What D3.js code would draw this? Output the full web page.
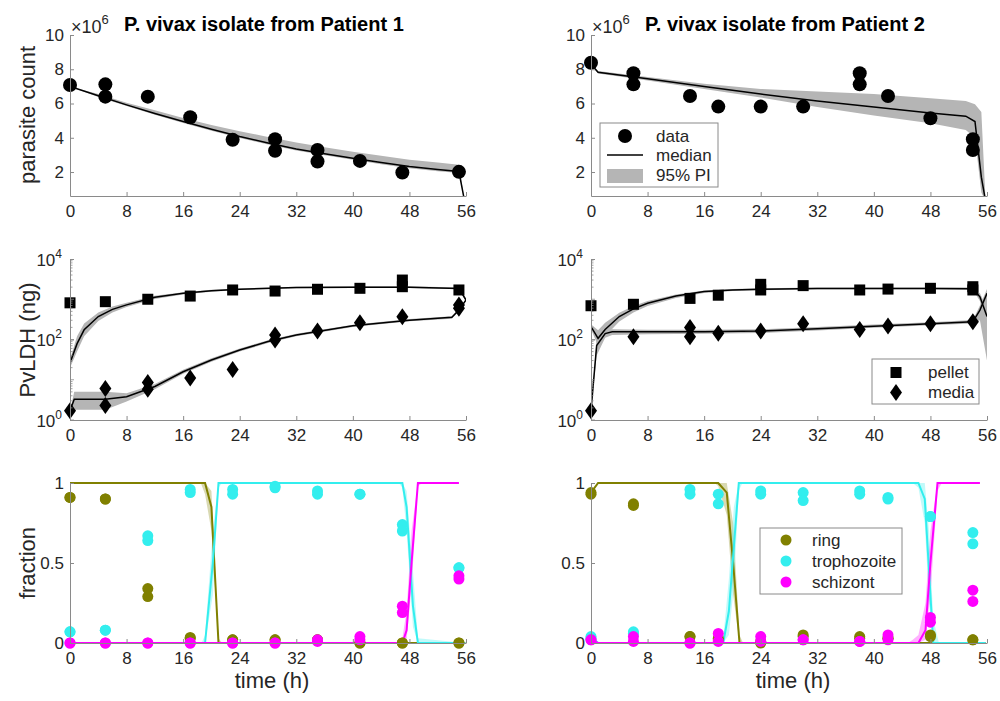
<!DOCTYPE html>
<html>
<head>
<meta charset="utf-8">
<title>P. vivax isolates</title>
<script src="https://cdn.jsdelivr.net/npm/d3@7"></script>
<style>body{margin:0;background:#fff}</style>
</head>
<body>
<div id="chart"></div>
<script>
// ---- data ----
const hourTicks = [0, 8, 16, 24, 32, 40, 48, 56];
const countTicks = [2, 4, 6, 8, 10];
const ldhTicks = [1, 100, 10000];
const fracTicks = [0, 0.5, 1];
const titles = ["P. vivax isolate from Patient 1", "P. vivax isolate from Patient 2"];

// parasite count (x10^6)
const p1CountT = [0, 5, 5, 11, 17, 23, 29, 29, 35, 35, 41, 47, 55];
const p1CountV = [7.08, 7.12, 6.4, 6.4, 5.2, 3.88, 3.92, 3.24, 3.29, 2.61, 2.65, 1.97, 2.01];
const p1CountModelT = [0, 4, 8, 12, 16, 20, 24, 28, 32, 36, 40, 44, 48, 52, 55, 55.8];
const p1CountMed = [7.0, 6.45, 5.92, 5.42, 4.95, 4.5, 4.07, 3.7, 3.35, 3.07, 2.81, 2.55, 2.32, 2.15, 2.03, 0.3];
const p1CountLo  = [7.0, 6.38, 5.85, 5.34, 4.86, 4.41, 3.98, 3.61, 3.26, 2.98, 2.72, 2.46, 2.22, 2.05, 1.94, 0.3];
const p1CountHi  = [7.0, 6.55, 6.05, 5.6, 5.15, 4.75, 4.38, 4.05, 3.72, 3.45, 3.18, 2.95, 2.72, 2.55, 2.42, 0.3];

const p2CountT = [0, 6, 6, 14, 18, 24, 30, 38, 38, 42, 48, 54, 54];
const p2CountV = [8.38, 7.77, 7.12, 6.44, 5.82, 5.82, 5.82, 7.77, 7.12, 6.44, 5.14, 3.92, 3.29];
const p2CountModelT = [0, 1, 8, 16, 24, 32, 40, 48, 53, 54.3, 55.2, 55.8];
const p2CountMed = [8.3, 7.82, 7.45, 7.0, 6.55, 6.15, 5.8, 5.45, 5.26, 4.95, 1.7, 0.3];
const p2CountLo  = [8.25, 7.75, 7.35, 6.85, 6.35, 5.8, 5.3, 4.85, 4.45, 4.0, 0.8, 0.3];
const p2CountHi  = [8.35, 7.9, 7.55, 7.15, 6.85, 6.7, 6.55, 6.3, 6.15, 5.95, 5.5, 0.3];

// PvLDH (ng)
const p1PelletT = [0, 5, 11, 17, 23, 29, 35, 41, 47, 47, 55];
const p1PelletV = [815, 870, 1000, 1200, 1700, 1600, 1770, 1870, 3000, 2050, 1700];
const p1PelletModelT = [0, 1, 2, 4, 6, 8, 12, 16, 20, 24, 32, 40, 48, 55, 56];
const p1PelletMed = [26, 79, 174, 372, 562, 724, 1122, 1413, 1622, 1778, 1950, 1995, 1995, 1862, 955];
const p1PelletLo  = [20, 50, 120, 290, 470, 640, 1020, 1320, 1540, 1700, 1870, 1910, 1910, 1780, 880];
const p1PelletHi  = [32, 120, 250, 470, 660, 820, 1230, 1500, 1720, 1860, 2040, 2090, 2090, 1950, 1050];

const p1MediaT = [0, 5, 5, 11, 11, 17, 23, 29, 29, 35, 41, 47, 55, 55];
const p1MediaV = [1.7, 6.1, 2.3, 8.5, 5.8, 11, 18, 130, 97, 162, 262, 370, 720, 600];
const p1MediaModelT = [0, 0.6, 5, 8, 12, 16, 20, 24, 28, 32, 40, 48, 54, 55, 56];
const p1MediaMed = [1.7, 3.3, 3.3, 3.8, 6.8, 15.8, 30.9, 55, 89, 129, 219, 302, 355, 537, 955];
const p1MediaLo  = [1.7, 1.8, 1.8, 2.9, 5.8, 14, 28, 50, 82, 120, 205, 283, 330, 500, 900];
const p1MediaHi  = [1.7, 5.0, 5.0, 4.6, 7.8, 17.8, 34, 60, 96, 138, 234, 322, 380, 575, 1010];

const p2PelletT = [0, 6, 14, 18, 24, 24, 30, 38, 42, 48, 54, 54];
const p2PelletV = [690, 750, 1050, 1260, 2350, 1700, 2180, 1700, 1790, 1870, 2050, 1700];
const p2PelletModelT = [0, 1, 2, 4, 6, 8, 12, 16, 20, 24, 32, 40, 48, 54, 55, 56];
const p2PelletMed = [209, 107, 178, 372, 575, 794, 1202, 1549, 1698, 1778, 1862, 1862, 1862, 1820, 1148, 372];
const p2PelletLo  = [180, 70, 120, 280, 470, 680, 1080, 1420, 1600, 1680, 1760, 1760, 1760, 1700, 900, 200];
const p2PelletHi  = [240, 170, 260, 460, 680, 900, 1320, 1660, 1800, 1880, 1960, 1960, 1960, 1950, 1400, 600];

const p2MediaT = [0, 6, 14, 14, 18, 24, 30, 38, 42, 48, 54];
const p2MediaV = [1.7, 117, 200, 117, 142, 162, 245, 178, 218, 245, 277];
const p2MediaModelT = [0, 0.8, 2, 3, 8, 16, 24, 32, 40, 48, 54, 55, 56];
const p2MediaMed = [1.7, 71, 140, 155, 155, 155, 162, 186, 214, 245, 275, 537, 1413];
const p2MediaLo  = [1.7, 40, 110, 130, 135, 138, 145, 168, 195, 225, 250, 300, 30];
const p2MediaHi  = [1.7, 110, 170, 180, 175, 175, 180, 205, 235, 270, 305, 700, 1800];

// stage fractions, two replicates per time point
const p1FracT = [0, 5, 11, 17, 23, 29, 35, 41, 47, 55];
const p1RingA   = [0.91, 0.90, 0.34, 0.035, 0.02, 0.02, 0.02, 0, 0, 0];
const p1RingB   = [0.91, 0.90, 0.29, 0.03, 0.02, 0.02, 0.02, 0, 0, 0];
const p1TrophA  = [0.07, 0.08, 0.67, 0.96, 0.96, 0.98, 0.95, 0.93, 0.74, 0.47];
const p1TrophB  = [0.07, 0.08, 0.64, 0.94, 0.93, 0.97, 0.93, 0.93, 0.70, 0.47];
const p1SchizA  = [0, 0, 0, 0, 0, 0, 0.02, 0.04, 0.23, 0.42];
const p1SchizB  = [0, 0, 0, 0, 0, 0, 0.01, 0.02, 0.19, 0.40];

const p2FracT = [0, 6, 14, 18, 24, 30, 38, 42, 48, 54];
const p2RingA   = [0.94, 0.87, 0.04, 0.03, 0.01, 0.05, 0.04, 0.03, 0.05, 0.02];
const p2RingB   = [0.93, 0.86, 0.04, 0.02, 0.0, 0.04, 0.03, 0.03, 0.04, 0.02];
const p2TrophA  = [0.04, 0.07, 0.96, 0.93, 0.95, 0.94, 0.95, 0.91, 0.79, 0.69];
const p2TrophB  = [0.03, 0.06, 0.93, 0.87, 0.93, 0.89, 0.93, 0.90, 0.79, 0.62];
const p2SchizA  = [0.02, 0.04, 0, 0.06, 0.04, 0.02, 0.01, 0.05, 0.16, 0.33];
const p2SchizB  = [0.02, 0.01, 0, 0.01, 0.01, 0.02, 0.01, 0.02, 0.13, 0.26];

// stage model: median and 95% PI
const p1RingModelT = [0, 18.5, 19.1, 20, 21, 21.5, 55.9];
const p1RingMed = [1, 1, 1, 0.85, 0, 0, 0];
const p1RingLo  = [1, 1, 0.93, 0.7, 0, 0, 0];
const p1RingHi  = [1, 1, 1, 0.95, 0.03, 0, 0];
const p1TrophModelT = [0, 18.6, 19.1, 20.2, 21, 21.5, 46.5, 47, 47.6, 48.5, 49.2, 55.9];
const p1TrophMed = [0, 0, 0, 0.5, 1, 1, 1, 1, 0.85, 0.23, 0, 0];
const p1TrophLo  = [0, 0, 0, 0.3, 0.97, 1, 1, 0.97, 0.7, 0.1, 0, 0];
const p1TrophHi  = [0, 0, 0.05, 0.7, 1, 1, 1, 1, 0.95, 0.45, 0.03, 0];
const p1SchizModelT = [0, 46.5, 47, 47.6, 48.3, 49.2, 49.8, 55];
const p1SchizMed = [0, 0, 0, 0.08, 0.5, 1, 1, 1];
const p1SchizLo  = [0, 0, 0, 0.02, 0.35, 0.98, 1, 1];
const p1SchizHi  = [0, 0, 0.03, 0.2, 0.7, 1, 1, 1];

const p2RingModelT = [0, 1, 17.5, 18, 19.2, 20.1, 21, 21.5, 55.8];
const p2RingMed = [0.94, 1, 1, 1, 0.94, 0.5, 0, 0, 0];
const p2RingLo  = [0.94, 1, 1, 0.98, 0.8, 0.3, 0, 0, 0];
const p2RingHi  = [0.94, 1, 1, 1, 1, 0.75, 0.05, 0, 0];
const p2TrophModelT = [0, 1, 18.3, 18.7, 19.5, 20.2, 20.9, 21.4, 45.5, 46.3, 47.2, 47.8, 48.4, 49.2, 55.8];
const p2TrophMed = [0.04, 0, 0, 0, 0.2, 0.6, 1, 1, 1, 1, 0.9, 0.45, 0, 0, 0];
const p2TrophLo  = [0.04, 0, 0, 0, 0.05, 0.35, 0.95, 1, 1, 0.97, 0.75, 0.25, 0, 0, 0];
const p2TrophHi  = [0.04, 0, 0, 0.03, 0.4, 0.85, 1, 1, 1, 1, 1, 0.7, 0.15, 0, 0];
const p2SchizModelT = [0, 1, 44.8, 45.5, 46.3, 47.3, 48, 49, 49.6, 55];
const p2SchizMed = [0.02, 0, 0, 0, 0, 0.08, 0.5, 1, 1, 1];
const p2SchizLo  = [0.02, 0, 0, 0, 0, 0.02, 0.3, 0.95, 1, 1];
const p2SchizHi  = [0.02, 0, 0, 0.02, 0.05, 0.25, 0.7, 1, 1, 1];

const stageNames = ["ring", "trophozoite", "schizont"];
const stageColors = ["#808000", "#33eeee", "#ff00ff"];

// ---- layout ----
const font = "'Liberation Sans', Arial, Helvetica, sans-serif";
const axisColor = "#8a8a8a", textColor = "#262626", bandColor = "#b5b5b5";
const cols = [[70, 466], [591, 987]];
const rowCount = [196, 35], rowLdh = [420, 259], rowFrac = [643, 483];

const svg = d3.select("#chart").append("svg")
    .attr("width", 1000).attr("height", 701)
    .style("font-family", font);

let clipN = 0;
function clipFor(x, y) {
  const id = "clip" + (clipN++);
  svg.append("clipPath").attr("id", id).append("rect")
      .attr("x", x.range()[0]).attr("y", y.range()[1])
      .attr("width", x.range()[1] - x.range()[0])
      .attr("height", y.range()[0] - y.range()[1]);
  return "url(#" + id + ")";
}

function styleAxis(g) {
  g.selectAll("path.domain").attr("stroke", axisColor);
  g.selectAll(".tick line").attr("stroke", axisColor);
  g.selectAll(".tick text").attr("fill", textColor).attr("font-size", 17).attr("font-family", font);
}

function drawXAxis(x, y) {
  svg.append("g")
      .attr("transform", `translate(0,${y.range()[0]})`)
      .call(d3.axisBottom(x).tickValues(hourTicks).tickSizeInner(-4).tickSizeOuter(0).tickPadding(9))
      .call(styleAxis);
}

function drawYAxis(x, y, ticks, fmt) {
  svg.append("g")
      .attr("transform", `translate(${x.range()[0]},0)`)
      .call(d3.axisLeft(y).tickValues(ticks).tickFormat(fmt).tickSizeInner(-4).tickSizeOuter(0).tickPadding(6))
      .call(styleAxis);
}

function zip(t, v) { return t.map((d, i) => [d, v[i]]); }

function band(x, y, t, lo, hi, color, opacity, clip) {
  svg.append("path")
      .datum(t.map((d, i) => [d, lo[i], hi[i]]))
      .attr("clip-path", clip)
      .attr("fill", color).attr("fill-opacity", opacity)
      .attr("d", d3.area().x(d => x(d[0])).y0(d => y(d[1])).y1(d => y(d[2])));
}

function medLine(x, y, t, v, color, width, clip) {
  svg.append("path")
      .datum(zip(t, v))
      .attr("clip-path", clip)
      .attr("fill", "none").attr("stroke", color).attr("stroke-width", width)
      .attr("d", d3.line().x(d => x(d[0])).y(d => y(d[1])));
}

const diamond = "M0,-8.5L6,0L0,8.5L-6,0Z";

function dots(x, y, t, v, r, color) {
  svg.append("g").selectAll("circle")
    .data(zip(t, v))
    .join("circle")
      .attr("cx", d => x(d[0])).attr("cy", d => y(d[1]))
      .attr("r", r).attr("fill", color);
}

function squares(x, y, t, v) {
  svg.append("g").selectAll("rect")
    .data(zip(t, v))
    .join("rect")
      .attr("x", d => x(d[0]) - 5.5).attr("y", d => y(d[1]) - 5.5)
      .attr("width", 11).attr("height", 11).attr("fill", "#000");
}

function diamonds(x, y, t, v) {
  svg.append("g").selectAll("path")
    .data(zip(t, v))
    .join("path")
      .attr("transform", d => `translate(${x(d[0])},${y(d[1])})`)
      .attr("d", diamond).attr("fill", "#000");
}

function yLabel(text, cy) {
  svg.append("text")
      .attr("transform", `translate(35,${cy}) rotate(-90)`)
      .attr("text-anchor", "middle")
      .attr("fill", textColor).attr("font-size", 22)
      .text(text);
}

// ---- top row: parasite count ----
const counts = [
  {t: p1CountT, v: p1CountV, mt: p1CountModelT, med: p1CountMed, lo: p1CountLo, hi: p1CountHi},
  {t: p2CountT, v: p2CountV, mt: p2CountModelT, med: p2CountMed, lo: p2CountLo, hi: p2CountHi}
];
counts.forEach((c, i) => {
  const x = d3.scaleLinear().domain([0, 56]).range(cols[i]);
  const y = d3.scaleLinear().domain([0.6, 10]).range(rowCount);
  const clip = clipFor(x, y);
  band(x, y, c.mt, c.lo, c.hi, bandColor, 1, clip);
  medLine(x, y, c.mt, c.med, "#000", 1.5, clip);
  dots(x, y, c.t, c.v, 7, "#000");
  drawXAxis(x, y);
  drawYAxis(x, y, countTicks, d3.format("d"));

  const head = svg.append("text").attr("x", cols[i][0] + 1).attr("y", 33)
      .attr("fill", textColor).attr("font-size", 18);
  head.append("tspan").text("\u00d710");
  head.append("tspan").attr("dy", -9).attr("font-size", 13).text("6");
  svg.append("text").attr("x", cols[i][0] + 54).attr("y", 31)
      .attr("font-size", 20).attr("font-weight", "bold").attr("fill", "#000")
      .text(titles[i]);
});
yLabel("parasite count", 115);

// legend for count panel
{
  const lg = svg.append("g").attr("transform", "translate(600,123)");
  lg.append("rect").attr("width", 118).attr("height", 64)
      .attr("fill", "#fff").attr("stroke", axisColor);
  lg.append("circle").attr("cx", 25).attr("cy", 13).attr("r", 7).attr("fill", "#000");
  lg.append("line").attr("x1", 7).attr("x2", 43).attr("y1", 32).attr("y2", 32)
      .attr("stroke", "#000").attr("stroke-width", 1.5);
  lg.append("rect").attr("x", 7).attr("y", 46).attr("width", 36).attr("height", 14).attr("fill", bandColor);
  ["data", "median", "95% PI"].forEach((s, k) => {
    lg.append("text").attr("x", 56).attr("y", 13 + k * 19.5).attr("dy", "0.35em")
        .attr("font-size", 17).attr("fill", textColor).text(s);
  });
}

// ---- middle row: PvLDH ----
const ldh = [
  {pt: p1PelletT, pv: p1PelletV, pmt: p1PelletModelT, pmed: p1PelletMed, plo: p1PelletLo, phi: p1PelletHi,
   mt: p1MediaT, mv: p1MediaV, mmt: p1MediaModelT, mmed: p1MediaMed, mlo: p1MediaLo, mhi: p1MediaHi},
  {pt: p2PelletT, pv: p2PelletV, pmt: p2PelletModelT, pmed: p2PelletMed, plo: p2PelletLo, phi: p2PelletHi,
   mt: p2MediaT, mv: p2MediaV, mmt: p2MediaModelT, mmed: p2MediaMed, mlo: p2MediaLo, mhi: p2MediaHi}
];
ldh.forEach((c, i) => {
  const x = d3.scaleLinear().domain([0, 56]).range(cols[i]);
  const y = d3.scaleLog().domain([1, 10000]).range(rowLdh);
  const clip = clipFor(x, y);
  band(x, y, c.pmt, c.plo, c.phi, bandColor, 1, clip);
  band(x, y, c.mmt, c.mlo, c.mhi, bandColor, 1, clip);
  medLine(x, y, c.pmt, c.pmed, "#000", 1.5, clip);
  medLine(x, y, c.mmt, c.mmed, "#000", 1.5, clip);
  squares(x, y, c.pt, c.pv);
  diamonds(x, y, c.mt, c.mv);
  drawXAxis(x, y);
  drawYAxis(x, y, ldhTicks, () => "");

  // minor log ticks
  const minor = [];
  for (let e = 0; e < 4; e++) for (let m = 1; m < 10; m++) minor.push(m * Math.pow(10, e));
  svg.append("g").selectAll("line").data(minor).join("line")
      .attr("x1", x.range()[0]).attr("x2", d => x.range()[0] + (String(d)[0] === "1" ? 4 : 2.5))
      .attr("y1", d => y(d)).attr("y2", d => y(d))
      .attr("stroke", axisColor).attr("stroke-width", 0.8);

  ldhTicks.forEach(v => {
    const t = svg.append("text").attr("x", x.range()[0] - 8).attr("y", y(v)).attr("dy", "0.4em")
        .attr("text-anchor", "end").attr("font-size", 17).attr("fill", textColor);
    t.append("tspan").text("10");
    t.append("tspan").attr("dy", -8).attr("font-size", 12).text(Math.round(Math.log10(v)));
  });
});
yLabel("PvLDH (ng)", 340);

{
  const lg = svg.append("g").attr("transform", "translate(872,359)");
  lg.append("rect").attr("width", 107).attr("height", 45)
      .attr("fill", "#fff").attr("stroke", axisColor);
  lg.append("rect").attr("x", 18.5).attr("y", 8).attr("width", 11).attr("height", 11).attr("fill", "#000");
  lg.append("path").attr("transform", "translate(24,33.5)").attr("d", diamond).attr("fill", "#000");
  ["pellet", "media"].forEach((s, k) => {
    lg.append("text").attr("x", 56).attr("y", 13.5 + k * 20).attr("dy", "0.35em")
        .attr("font-size", 17).attr("fill", textColor).text(s);
  });
}

// ---- bottom row: stage fractions ----
const fracs = [
  {t: p1FracT, pts: [[p1RingA, p1RingB], [p1TrophA, p1TrophB], [p1SchizA, p1SchizB]],
   models: [[p1RingModelT, p1RingMed, p1RingLo, p1RingHi],
            [p1TrophModelT, p1TrophMed, p1TrophLo, p1TrophHi],
            [p1SchizModelT, p1SchizMed, p1SchizLo, p1SchizHi]]},
  {t: p2FracT, pts: [[p2RingA, p2RingB], [p2TrophA, p2TrophB], [p2SchizA, p2SchizB]],
   models: [[p2RingModelT, p2RingMed, p2RingLo, p2RingHi],
            [p2TrophModelT, p2TrophMed, p2TrophLo, p2TrophHi],
            [p2SchizModelT, p2SchizMed, p2SchizLo, p2SchizHi]]}
];
fracs.forEach((c, i) => {
  const x = d3.scaleLinear().domain([0, 56]).range(cols[i]);
  const y = d3.scaleLinear().domain([0, 1]).range(rowFrac);
  c.models.forEach((m, k) => band(x, y, m[0], m[2], m[3], stageColors[k], 0.3, null));
  c.models.forEach((m, k) => medLine(x, y, m[0], m[1], stageColors[k], 2, null));
  c.pts.forEach((reps, k) => reps.forEach(v => dots(x, y, c.t, v, 5.5, stageColors[k])));
  drawXAxis(x, y);
  drawYAxis(x, y, fracTicks, d3.format("~g"));
  svg.append("text")
      .attr("x", (cols[i][0] + cols[i][1]) / 2 + 4).attr("y", 688)
      .attr("text-anchor", "middle").attr("font-size", 22).attr("fill", textColor)
      .text("time (h)");
});
yLabel("fraction", 563);

{
  const lg = svg.append("g").attr("transform", "translate(760,528)");
  lg.append("rect").attr("width", 142).attr("height", 66)
      .attr("fill", "#fff").attr("stroke", axisColor);
  stageNames.forEach((s, k) => {
    lg.append("circle").attr("cx", 26).attr("cy", 12 + k * 21).attr("r", 5.5).attr("fill", stageColors[k]);
    lg.append("text").attr("x", 52).attr("y", 12 + k * 21).attr("dy", "0.35em")
        .attr("font-size", 17).attr("fill", textColor).text(s);
  });
}
</script>
</body>
</html>
